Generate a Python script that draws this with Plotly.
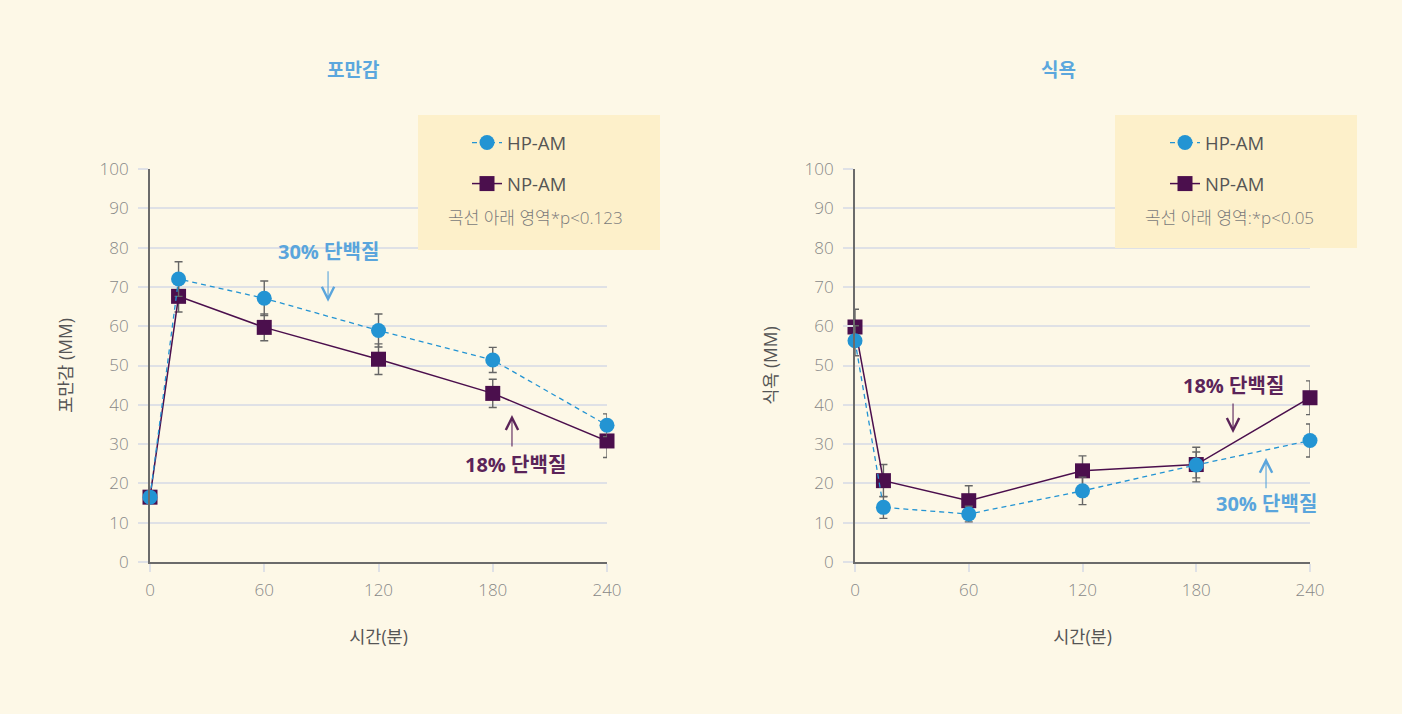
import plotly.graph_objects as go

# ---------------- data ----------------
time_min = [0, 15, 60, 120, 180, 240]
x_ticks = [0, 60, 120, 180, 240]
y_ticks = [0, 10, 20, 30, 40, 50, 60, 70, 80, 90, 100]

# 포만감 (fullness)
full_hp = [16.5, 72.0, 67.1, 58.9, 51.4, 34.8]
full_hp_err = [0.0, 4.4, 4.4, 4.2, 3.2, 2.9]
full_np = [16.5, 67.6, 59.7, 51.6, 42.9, 30.8]
full_np_err = [0.0, 4.0, 3.4, 3.9, 3.6, 4.2]

# 식욕 (appetite)
app_hp = [56.3, 13.9, 12.2, 18.1, 24.7, 30.9]
app_hp_err = [3.8, 2.8, 2.0, 3.5, 3.3, 4.2]
app_np = [59.8, 20.7, 15.6, 23.2, 24.8, 41.8]
app_np_err = [4.5, 4.1, 3.8, 3.8, 4.4, 4.3]

series_names = ["HP-AM", "NP-AM"]
panel_titles = ["포만감", "식욕"]
y_titles = ["포만감 (MM)", "식욕 (MM)"]
x_title = "시간(분)"
notes = ["곡선 아래 영역*p<0.123", "곡선 아래 영역:*p<0.05"]
label_30 = "30% 단백질"
label_18 = "18% 단백질"

# ---------------- style ----------------
W, H = 1402, 714
BG = "#fdf8e7"
BOX = "#fdf0ca"
BLUE = "#2394d3"
PURPLE = "#4b0f4d"
TITLE_BLUE = "#5ba7dd"
LBL_BLUE = "#5aa5dc"
LBL_PURPLE = "#5b2459"
GRID = "#dfe1e6"
AXIS = "#6b6b6b"
TICK = "#888888"
TXT = "#555555"
ERR = "#666666"
FONT = "Open Sans, Noto Sans CJK KR"
KFONT = "Noto Sans CJK KR"


def px_x(p):
    return p / W


def px_y(p):
    return 1 - p / H


fig = go.Figure()

panels = [
    dict(xa="x", ya="y", hp=full_hp, hpe=full_hp_err, np_=full_np, npe=full_np_err, legend="legend"),
    dict(xa="x2", ya="y2", hp=app_hp, hpe=app_hp_err, np_=app_np, npe=app_np_err, legend="legend2"),
]

for i, p in enumerate(panels):
    fig.add_trace(go.Scatter(
        x=time_min, y=p["np_"], name=series_names[1], xaxis=p["xa"], yaxis=p["ya"],
        mode="lines+markers", legend=p["legend"], legendgroup=f"np{i}", legendrank=2,
        line=dict(color=PURPLE, width=1.5),
        marker=dict(symbol="square", size=15, color=PURPLE),
        error_y=dict(type="data", array=p["npe"], color=ERR, thickness=1.4, width=4),
        cliponaxis=False,
    ))
    fig.add_trace(go.Scatter(
        x=time_min, y=p["hp"], name=series_names[0], xaxis=p["xa"], yaxis=p["ya"],
        mode="lines+markers", legend=p["legend"], legendgroup=f"hp{i}", legendrank=1,
        line=dict(color=BLUE, width=1.3, dash="5px,4px"),
        marker=dict(symbol="circle", size=15, color=BLUE),
        error_y=dict(type="data", array=p["hpe"], color=ERR, thickness=1.4, width=4),
        cliponaxis=False,
    ))

xdomains = [[px_x(150), px_x(607)], [px_x(855), px_x(1310)]]
ydomain = [px_y(562), px_y(169)]

axis_common_x = dict(
    range=[0, 240], tickvals=x_ticks, showgrid=False, zeroline=False,
    showline=True, linecolor=AXIS, linewidth=2,
    ticks="outside", ticklen=8, tickwidth=1.5, tickcolor=GRID,
    tickfont=dict(family=FONT, size=17, color=TICK, weight=300),
    ticklabelstandoff=4,
    title=dict(text=x_title, font=dict(family=FONT, size=17.5, color=TXT), standoff=30),
)
axis_common_y = dict(
    range=[0, 100], tickvals=y_ticks, showgrid=True, gridcolor=GRID, gridwidth=1.5,
    zeroline=False, showline=True, linecolor=AXIS, linewidth=2,
    ticks="outside", ticklen=10, tickwidth=1.5, tickcolor=GRID,
    tickfont=dict(family=FONT, size=17, color=TICK, weight=300),
    ticklabelstandoff=6,
)

fig.update_layout(
    width=W, height=H, margin=dict(l=0, r=0, t=0, b=0, autoexpand=False),
    paper_bgcolor=BG, plot_bgcolor=BG,
    font=dict(family=FONT),
    xaxis=dict(domain=xdomains[0], anchor="y", **axis_common_x),
    xaxis2=dict(domain=xdomains[1], anchor="y2", **axis_common_x),
    yaxis=dict(domain=ydomain, anchor="x",
               title=dict(text=y_titles[0], font=dict(family=FONT, size=17.5, color=TXT), standoff=22),
               **axis_common_y),
    yaxis2=dict(domain=ydomain, anchor="x2",
                title=dict(text=y_titles[1], font=dict(family=FONT, size=17.5, color=TXT), standoff=22),
                **axis_common_y),
    showlegend=True,
    legend=dict(x=px_x(467), y=px_y(124), xanchor="left", yanchor="top", bgcolor="rgba(0,0,0,0)",
                font=dict(family=FONT, size=18.5, color=TXT), tracegroupgap=14, traceorder="grouped"),
    legend2=dict(x=px_x(1165), y=px_y(124), xanchor="left", yanchor="top", bgcolor="rgba(0,0,0,0)",
                 font=dict(family=FONT, size=18.5, color=TXT), tracegroupgap=14, traceorder="grouped"),
)

shapes = []
# legend boxes
for (x0, x1, y0, y1) in [(418, 660, 115, 250), (1115, 1357, 115, 248)]:
    shapes.append(dict(type="rect", xref="paper", yref="paper", x0=px_x(x0), x1=px_x(x1),
                       y0=px_y(y1), y1=px_y(y0), fillcolor=BOX, line=dict(width=0), layer="above"))
# axis line extensions
for xa, ya in [("x", "y"), ("x2", "y2")]:
    shapes.append(dict(type="line", xref=xa, yref=ya, x0=0, x1=0, ysizemode="pixel", yanchor=0,
                       y0=0, y1=-10, line=dict(color=AXIS, width=2)))
    shapes.append(dict(type="line", xref=xa, yref=ya, y0=0, y1=0, xsizemode="pixel", xanchor=0,
                       x0=-10, x1=0, line=dict(color=AXIS, width=2)))
fig.update_layout(shapes=shapes)

ann = []
# panel titles
for t, xp in zip(panel_titles, [353, 1058]):
    ann.append(dict(text=f"<b>{t}</b>", xref="paper", yref="paper", x=px_x(xp), y=px_y(69),
                    xanchor="center", yanchor="middle", showarrow=False,
                    font=dict(family=KFONT, size=19, color=TITLE_BLUE)))
# notes in legend boxes
for t, xp in zip(notes, [446, 1143]):
    ann.append(dict(text=t, xref="paper", yref="paper", x=px_x(xp), y=px_y(217),
                    xanchor="left", yanchor="middle", showarrow=False,
                    font=dict(family=FONT, size=17, color="#7a7a7a", weight=300)))

# series labels with arrows
labels = [
    # xa, ya, text, color, tx, ty, head_x, head_y, ay
    ("x", "y", label_30, LBL_BLUE, 93.5, 78.9, 93.5, 66.2, -32),
    ("x", "y", label_18, LBL_PURPLE, 191.7, 24.9, 190.1, 37.4, 33),
    ("x2", "y2", label_18, LBL_PURPLE, 199.4, 45.0, 199.4, 32.8, -31),
    ("x2", "y2", label_30, LBL_BLUE, 216.8, 15.0, 216.8, 26.5, 32),
]
for xa, ya, t, c, tx, ty, hx, hy, ay in labels:
    ann.append(dict(text=f"<b>{t}</b>", xref=xa, yref=ya, x=tx, y=ty, showarrow=False,
                    xanchor="center", yanchor="middle",
                    font=dict(family=FONT, size=20, color=c)))
    ann.append(dict(text="", xref=xa, yref=ya, x=hx, y=hy, ax=0, ay=ay, showarrow=True,
                    arrowhead=5, arrowsize=2.2, arrowwidth=1.1, arrowcolor=c))
fig.update_layout(annotations=ann)

fig.write_html(
    "out.html",
    config={"displayModeBar": False},
    post_script="document.body.style.margin='0';document.body.style.overflow='hidden';",
)
